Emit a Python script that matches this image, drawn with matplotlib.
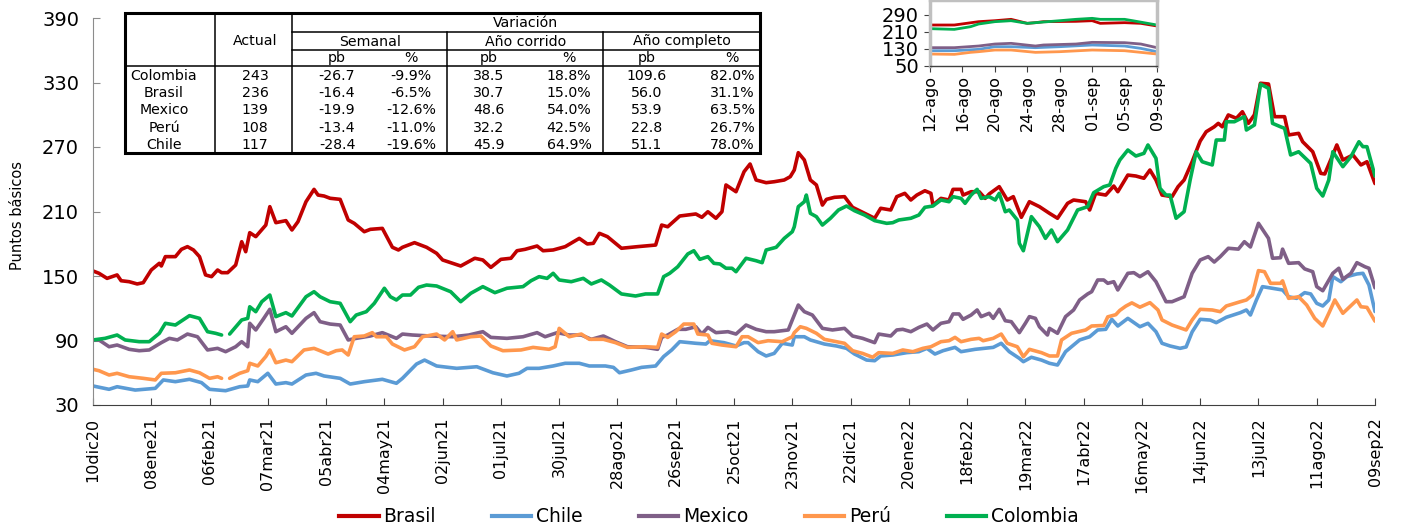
import numpy as np
import pandas as pd
import matplotlib
matplotlib.use("Agg")
import matplotlib.pyplot as plt
from matplotlib.patches import Rectangle
from matplotlib.lines import Line2D

plt.rcParams['font.family'] = ['DejaVu Sans']

# ---------------- data (days since 10dic20) ----------------
start_date = "2020-12-10"

brasil_days = [0,3,7,12,14,18,22,25,29,33,34,36,41,44,47,50,53,56,59,62,64,67,71,74,76,78,81,86,88,91,96,99,102,106,110,112,115,118,123,127,130,135,138,144,149,152,154,160,166,171,174,183,190,194,198,203,208,211,215,221,224,229,235,242,246,249,252,256,263,271,280,283,286,292,300,303,306,310,313,315,320,324,327,330,335,339,344,347,349,351,354,357,360,363,365,369,374,378,384,389,392,397,400,404,407,410,414,417,418,422,426,428,432,433,437,441,444,446,451,455,458,462,466,471,476,480,485,488,494,496,499,504,508,510,515,519,523,526,529,532,537,540,543,547,551,554,558,560,562,565,569,572,575,578,581,585,588,593,595,600,602,607,611,613,617,619,622,627,631,634,638]
brasil_vals = [154.7,152.5,147.8,151,145.6,144.7,142.6,143.8,155.6,161.8,159.3,168,168,174.8,177.3,174.2,168,151,149.4,155.6,153.1,153.1,160.2,181.9,172.6,190.3,186.6,197.4,214.5,199.6,201.5,192.8,200.5,219.1,230.6,225.3,224.4,222.3,221.3,202.1,199,191.2,193.4,194.3,176.7,174.2,176.7,181,176.7,171.1,164.9,159.3,166.5,164.9,158,165.5,166.5,173.5,174.8,177.9,173.5,174.2,177.3,185,179.8,180.4,189.7,186.6,175.8,177.3,178.8,197.4,195.8,205.8,207.7,204.6,209.8,203.7,209.8,234.7,228.4,247,254.2,239.3,236.8,237.7,239.3,242.4,248.6,264.7,257.9,239.3,234.7,216,221.3,223.2,223.8,213.9,208.3,203.7,213,211.4,223.8,226.9,220.7,225.3,229.3,226.9,216,222.2,220.7,230.6,230.6,225.3,228.4,228.4,222.2,226.3,233.1,220.7,223.8,204.6,219.1,214.5,208.3,203.7,217.6,220.7,219.1,211.4,226.9,225.3,233.7,228.4,243.9,243,240.9,248.6,239.3,225.3,223.8,233.1,239.3,256.3,275.5,284.2,288.8,292,288.8,299.8,296.7,302.8,292,300,329.3,328.6,298.2,298.2,281.2,282.7,274.9,265.6,245.5,244.9,262.6,271.9,257.9,262.6,253.3,256.3,236]

chile_days = [0,8,12,21,31,35,41,48,54,58,66,73,77,78,82,87,91,96,99,106,111,115,123,128,135,144,151,154,161,165,171,181,191,199,206,212,216,222,229,235,242,247,255,259,262,268,273,280,284,288,292,300,305,307,314,320,324,326,331,335,339,343,348,349,354,357,364,370,375,379,385,389,392,398,405,411,415,419,423,429,432,439,448,452,456,461,463,467,472,476,480,484,491,496,500,504,507,510,515,521,525,529,532,536,541,544,547,551,556,559,564,571,574,576,579,582,587,592,595,599,603,606,609,612,615,617,621,624,629,632,635,638]
chile_vals = [47.7,44.6,47,43.9,45.5,53.3,51.7,53.9,50.8,44.6,43.3,47,47.7,53.3,51.7,59.5,49.5,50.8,49.5,57.9,59.5,57,54.8,49.5,51.7,53.9,50.2,54.8,68.1,71.8,66.3,64.1,65.6,60,57,59.5,64.1,64.1,66.3,68.8,68.8,66.3,66.3,65,60,62.6,65,66.3,75.1,81.2,88.9,87.4,86.7,89.8,88,84.9,88,88,79.6,75.6,78,87.4,85.8,93.5,93.5,90.5,86.7,84.9,82.7,77.4,71.8,71.2,75.6,76.5,78.7,79.6,82.7,77.4,80.5,83.6,79.6,81.8,83.6,87.4,79.6,73.4,70.3,74.4,71.8,68.8,67.2,79.6,90.5,93.5,99.8,100.4,109.7,103.5,110.6,102.8,106,98.2,87.4,84.9,82.7,84,98,109.7,109,106.6,111.6,115.9,118.4,113.7,127.7,140.1,138.6,137,130.7,129.2,134.5,133.3,124.6,122.1,127.7,149.4,144.7,149.4,151.9,152.5,141.6,117]

mexico_days = [0,3,8,12,18,23,28,34,38,42,47,52,57,62,66,71,74,77,78,81,85,88,91,96,99,106,110,113,118,123,127,131,138,144,151,154,159,168,179,187,194,198,206,214,221,225,231,237,243,248,254,260,266,275,281,283,286,291,295,300,303,306,310,316,320,325,330,335,339,346,348,351,354,358,363,368,374,378,383,389,391,397,400,403,407,411,415,418,422,426,428,431,433,437,440,442,446,448,451,454,457,461,464,466,469,471,475,476,480,484,488,491,495,497,500,503,505,508,510,515,518,521,525,529,534,537,543,547,551,555,558,561,565,570,573,576,580,585,587,591,592,595,600,603,607,609,612,617,620,622,626,629,633,635,638]
mexico_vals = [90.5,90.5,84.2,85.8,81.8,80.5,81.2,88,92,90.5,96,93.5,81.2,82.7,79.6,84.2,88.9,84.2,106,99.8,110.6,119,98.2,102.8,96.7,110.6,115.9,107.5,105.3,104.4,90.5,92,94.2,97.3,92,96,95.1,94.2,93.5,95.1,98.2,92.9,92,93.5,97.3,93.5,97.3,95.1,95.1,91.1,94.2,88.9,84.2,83.6,81.8,92.9,95.1,100.4,100.4,102.8,96,102.2,97.3,98.2,96,104.4,100.4,98.2,98.2,99.8,109.1,123,116.8,113.7,101.3,99.8,101.3,94.2,92,88,96,94.2,99.8,100.4,98.2,102.2,105.3,99.8,106,107.5,114.7,114.7,109.7,113.7,118.4,112.2,115.3,110.6,119,108.4,107.5,97.3,106,112.2,110.6,102.8,95.1,101.3,96.7,112.2,118.4,127.7,133.3,135.4,146.3,146.3,143.2,144.7,137,152.5,153.1,149.4,154,144.7,126.1,126.1,130.7,152.5,164.9,168,163,168,175.8,175,181.9,177,199,185,166.5,167,175,161.8,162.4,156.6,154,140.1,136.3,152.5,157.2,147,152.5,162.4,158.6,157.2,139]

peru_days = [0,3,8,12,18,25,31,34,41,48,53,58,62,64,66,68,73,77,78,82,86,88,91,96,99,105,110,113,117,121,124,127,130,135,139,141,146,149,155,160,164,171,175,179,181,188,193,198,204,213,219,227,230,232,237,243,247,254,260,266,275,281,283,286,290,294,299,301,306,308,313,320,323,326,331,336,343,348,349,352,355,360,364,370,374,378,383,388,391,398,403,408,413,417,422,426,429,432,437,441,443,448,452,455,460,463,466,472,476,480,482,487,494,497,503,505,509,511,514,517,521,526,530,532,537,544,547,551,557,561,564,571,574,577,580,583,586,591,592,595,600,604,608,612,615,618,622,629,631,634,638]
peru_vals = [63.2,61.9,57.9,59.5,56.3,54.8,53.3,59.5,60,62.6,60,54.8,56.3,54.8,np.nan,54.8,59.5,61.9,68.8,66.3,75.1,81.2,69.3,71.8,70.3,81.2,82.7,80.5,77.4,80.5,81.2,76.5,93.5,94.2,97.3,93.5,93.5,86.7,81.2,84.2,93.5,96,90.5,98.2,90.5,93.5,94.2,84.9,80.5,81.2,83.6,81.8,84.2,101.3,93.5,96,91.1,91.1,88,83.6,84.2,83.6,96,92.9,98.2,105.3,105.3,96,95.1,87.4,85.8,84.2,93.5,93.5,88,89.8,88.9,93.5,97.3,102.8,101.3,96.7,91.1,88.9,87.4,80.5,78,74.4,78.7,78,81.2,79.6,82.7,84.2,88.9,89.8,92.9,88.9,91.1,92,89.8,92,96,87.4,84.2,74.9,81.8,78.7,75.6,75.6,90.5,96.7,99.8,103.5,104,112,114,118,122,125,121,125.2,118.4,109.1,104.4,99.8,109.1,119,118.4,116.8,122.1,126.1,127.7,132.3,155,154,143.2,143.2,145.5,129.2,130.7,123,110.6,103.5,115.3,127.7,115.3,127.7,121.4,120.8,108]

colombia_days = [0,6,12,16,23,28,33,36,41,48,53,57,61,64,66,68,74,77,78,81,84,88,91,96,99,106,110,113,118,123,128,131,136,140,145,148,151,154,158,162,166,171,178,183,188,194,200,206,214,218,222,226,229,232,238,244,248,253,257,263,270,275,281,284,287,291,296,299,302,306,309,312,315,318,320,325,330,333,335,340,344,348,349,351,354,355,357,360,363,367,371,375,379,384,389,395,398,401,407,411,414,418,422,426,428,432,434,437,440,442,446,449,451,454,456,460,461,463,467,471,474,477,480,485,490,495,498,503,506,509,511,515,519,523,525,529,531,534,536,539,543,546,549,552,557,559,563,564,568,573,574,578,581,585,587,591,593,596,600,606,609,612,615,617,622,626,630,632,634,638]
colombia_vals = [90.5,92,95.1,90.5,88.9,88.9,96.7,106,104.4,113.1,110.6,98.2,96.7,95.1,np.nan,96,109.1,110.6,121.4,116.8,126.1,132.3,112.2,115.9,112.8,130.7,135.4,130.7,126.1,124.6,107.5,113.7,116.8,124.6,138.6,130.7,127.7,132.3,132.3,139.5,141.6,140.7,135.4,126.1,133.9,140.1,134.5,138.6,140.1,145.6,149.4,147.8,152.5,146.3,144.7,147.8,142.6,146.3,141.6,133.3,131.4,133.3,133.3,149.4,152.5,158.6,170.5,173.5,165.5,168,161.8,161.2,157.2,157.2,154,166.5,164.2,162.4,174.2,176.7,185,191.2,195.8,214.5,219.1,225.3,208.3,205.2,197.4,203.7,211.4,215.1,210.7,206.7,201.5,199,199.6,202.1,203.7,206.7,213.9,215.1,220.7,219.1,223.8,222.2,217.6,225.3,230.6,222.2,223.8,220.7,226.9,209.8,211.4,202.1,180.4,173.5,205.2,195.8,185,192.8,181.9,192.8,211.4,214.5,227.5,233.1,234.7,250.2,257.9,267.2,261.6,264.1,271.9,259.5,231.6,225.3,225.3,203.7,209.8,239.3,265.6,256.3,253.3,276.5,276.5,293.5,293.5,298.2,285.8,290.5,328.5,324.6,292,288.8,287.4,262.6,265.6,254.8,231.6,224.4,239.3,265.6,251.7,261,274.9,270.3,270.3,243]

xtick_labels = ["10dic20","08ene21","06feb21","07mar21","05abr21","04may21","02jun21",
                "01jul21","30jul21","28ago21","26sep21","25oct21","23nov21","22dic21",
                "20ene22","18feb22","19mar22","17abr22","16may22","14jun22","13jul22",
                "11ago22","09sep22"]
xtick_step_days = 29

# inset (days since 12-ago-22)
inset_start = "2022-08-12"
inset_brasil_days = [0,3,6,8,10,12,13,14,18,20,21,24,26,28]
inset_brasil_vals = [242.6,242.6,258.4,263,269.5,250.5,253.7,258.4,260,263,250.5,253.7,250.5,238]
inset_chile_days = [0,3,6,8,10,13,16,20,24,26,28]
inset_chile_vals = [121,121,127.4,140,140,135.3,140,148,143.2,132,116.3]
inset_mexico_days = [0,3,6,8,10,13,14,18,20,24,26,28]
inset_mexico_vals = [135.3,135.3,143.2,152.6,155.8,143.2,148,152.6,160.5,159,152.6,135.3]
inset_peru_days = [0,3,5,6,8,10,13,16,20,24,28]
inset_peru_vals = [105.3,103.7,113.2,116.3,124.2,124.2,113.2,116.3,124.2,121,105.3]
inset_colombia_days = [0,3,5,6,8,10,12,14,16,18,20,21,24,25,28]
inset_colombia_vals = [225.3,222,234.7,247.4,258.4,263,250.5,256.8,263,269.5,274.2,269.5,269.5,263,242.6]
inset_xtick_labels = ["12-ago","16-ago","20-ago","24-ago","28-ago","01-sep","05-sep","09-sep"]
inset_step_days = 4

# table
tbl_countries = ["Colombia", "Brasil", "Mexico", "Perú", "Chile"]
tbl_actual = [243, 236, 139, 108, 117]
tbl_sem_pb = [-26.7, -16.4, -19.9, -13.4, -28.4]
tbl_sem_pct = [-9.9, -6.5, -12.6, -11.0, -19.6]
tbl_ac_pb = [38.5, 30.7, 48.6, 32.2, 45.9]
tbl_ac_pct = [18.8, 15.0, 54.0, 42.5, 64.9]
tbl_comp_pb = [109.6, 56.0, 53.9, 22.8, 51.1]
tbl_comp_pct = [82.0, 31.1, 63.5, 26.7, 78.0]

names = ["Brasil", "Chile", "Mexico", "Perú", "Colombia"]
colors = {"Brasil": "#C00000", "Chile": "#5B9BD5", "Mexico": "#7F5F87",
          "Perú": "#FF974D", "Colombia": "#00B050"}

main_series = {"Brasil": (brasil_days, brasil_vals), "Chile": (chile_days, chile_vals),
               "Mexico": (mexico_days, mexico_vals), "Perú": (peru_days, peru_vals),
               "Colombia": (colombia_days, colombia_vals)}
inset_series = {"Brasil": (inset_brasil_days, inset_brasil_vals),
                "Chile": (inset_chile_days, inset_chile_vals),
                "Mexico": (inset_mexico_days, inset_mexico_vals),
                "Perú": (inset_peru_days, inset_peru_vals),
                "Colombia": (inset_colombia_days, inset_colombia_vals)}


def to_dates(base, days):
    return pd.Timestamp(base) + pd.to_timedelta(np.asarray(days, dtype=float), unit="D")


W, H = 1403, 530
fig = plt.figure(figsize=(W / 100, H / 100), dpi=100)

# ---------------- main axes ----------------
ax = fig.add_axes([93 / W, 1 - 405 / H, (1375 - 93) / W, (405 - 18) / H])
for nm in names:
    d, v = main_series[nm]
    n = min(len(d), len(v))
    ax.plot(to_dates(start_date, d[:n]), v[:n], color=colors[nm], lw=2.6,
            solid_joinstyle="round", solid_capstyle="round")

ax.set_ylim(30, 390)
ax.set_yticks(np.arange(30, 391, 60))
t0 = pd.Timestamp(start_date)
tick_dates = [t0 + pd.Timedelta(days=xtick_step_days * k) for k in range(len(xtick_labels))]
ax.set_xlim(tick_dates[0], tick_dates[-1])
ax.set_xticks(tick_dates)
ax.set_xticklabels(xtick_labels, rotation=90)
for s in ["top", "right"]:
    ax.spines[s].set_visible(False)
ax.spines["left"].set_color("#8c8c8c")
ax.spines["bottom"].set_color("#404040")
ax.tick_params(axis="y", direction="in", length=5, color="#8c8c8c", labelsize=14, pad=10)
ax.tick_params(axis="x", direction="in", length=5, color="#404040", labelsize=11.5, pad=9)
fig.text(18 / W, 1 - 215 / H, "Puntos básicos", rotation=90, ha="center", va="center",
         fontsize=10.5)

# legend
handles = [Line2D([], [], color=colors[nm], lw=3) for nm in names]
fig.legend(handles, names, loc="center", bbox_to_anchor=(709 / W, 1 - 517 / H), ncol=5,
           frameon=False, fontsize=13.5, handlelength=2.1, handletextpad=0.25,
           columnspacing=3.0, borderaxespad=0, borderpad=0)

# ---------------- inset ----------------
axi = fig.add_axes([930 / W, 1 - 65.7 / H, 227 / W, 65.7 / H])
i0 = pd.Timestamp(inset_start)
for nm in names:
    d, v = inset_series[nm]
    n = min(len(d), len(v))
    axi.plot(to_dates(inset_start, d[:n]), v[:n], color=colors[nm], lw=2)
it_dates = [i0 + pd.Timedelta(days=inset_step_days * k) for k in range(len(inset_xtick_labels))]
axi.set_xlim(it_dates[0], it_dates[-1])
axi.set_xticks(it_dates)
axi.set_xticklabels(inset_xtick_labels, rotation=90)
axi.set_ylim(50, 361)
axi.set_yticks([50, 130, 210, 290])
for s in ["left", "top", "right"]:
    axi.spines[s].set_color("#c0c0c0")
    axi.spines[s].set_linewidth(2.5)
axi.spines["bottom"].set_color("#404040")
axi.spines["bottom"].set_linewidth(1)
axi.tick_params(axis="y", direction="out", length=4, color="#404040", labelsize=14, pad=4)
axi.tick_params(axis="x", direction="out", length=4, color="#404040", labelsize=11.5, pad=3)

# ---------------- table ----------------
axt = fig.add_axes([0, 0, 1, 1])
axt.set_xlim(0, W)
axt.set_ylim(H, 0)
axt.axis("off")
L, R, T, B = 125, 760, 13, 153
axt.add_patch(Rectangle((L, T), R - L, B - T, facecolor="white", edgecolor="black", lw=2.2))
lc = "black"
lw_in = 1.1
axt.plot([215, 215], [T, B], color=lc, lw=lw_in)
axt.plot([292, 292], [T, B], color=lc, lw=lw_in)
axt.plot([292, R], [32, 32], color=lc, lw=lw_in)
axt.plot([292, R], [49.5, 49.5], color=lc, lw=lw_in)
axt.plot([447, 447], [32, B], color=lc, lw=lw_in)
axt.plot([603, 603], [32, B], color=lc, lw=lw_in)
axt.plot([L, R], [66, 66], color=lc, lw=lw_in)

fs = 10.2
col_x = [164, 255, 337, 411, 489, 569, 647, 732]
axt.text(526, 23, "Variación", ha="center", va="center", fontsize=fs)
axt.text(255, 41, "Actual", ha="center", va="center", fontsize=fs)
for cx, lab in zip([370, 526, 682], ["Semanal", "Año corrido", "Año completo"]):
    axt.text(cx, 41.5, lab, ha="center", va="center", fontsize=fs)
for cx, lab in zip(col_x[2:], ["pb", "%", "pb", "%", "pb", "%"]):
    axt.text(cx, 58, lab, ha="center", va="center", fontsize=fs)
row_y = [75.5, 93, 110.5, 128, 145]
for i, ry in enumerate(row_y):
    vals = [tbl_countries[i], f"{tbl_actual[i]}", f"{tbl_sem_pb[i]:.1f}", f"{tbl_sem_pct[i]:.1f}%",
            f"{tbl_ac_pb[i]:.1f}", f"{tbl_ac_pct[i]:.1f}%", f"{tbl_comp_pb[i]:.1f}",
            f"{tbl_comp_pct[i]:.1f}%"]
    for cx, s in zip(col_x, vals):
        axt.text(cx, ry, s, ha="center", va="center", fontsize=fs)

fig.savefig("out.png", dpi=100)
